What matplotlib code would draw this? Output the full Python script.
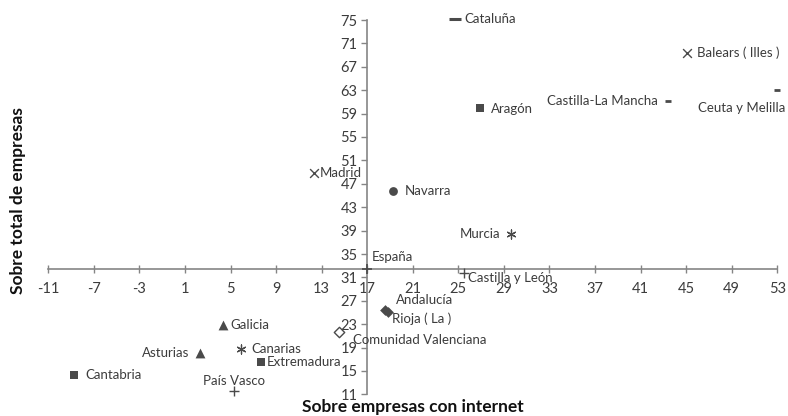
import matplotlib
matplotlib.use("Agg")
import matplotlib.pyplot as plt

# ---- data ----
regions = ["España", "Cataluña", "Balears ( Illes )", "Ceuta y Melilla", "Castilla-La Mancha",
           "Aragón", "Madrid", "Navarra", "Murcia", "Castilla y León", "Andalucía",
           "Rioja ( La )", "Comunidad Valenciana", "Galicia", "Asturias", "Canarias",
           "Extremadura", "Cantabria", "País Vasco"]
sobre_internet = [17.0, 24.7, 45.1, 53.0, 43.4, 26.9, 12.3, 19.3, 29.6, 25.5, 18.6,
                  18.8, 14.5, 4.3, 2.3, 5.9, 7.7, -8.7, 5.3]
sobre_total = [32.4, 75.1, 69.4, 63.0, 61.2, 59.9, 48.8, 45.8, 38.5, 31.8, 25.5,
               25.1, 21.7, 22.9, 18.0, 18.7, 16.6, 14.3, 11.5]
x_ticks = [-11, -7, -3, 1, 5, 9, 13, 17, 21, 25, 29, 33, 37, 41, 45, 49, 53]
y_ticks = [11, 15, 19, 23, 27, 31, 35, 39, 43, 47, 51, 55, 59, 63, 67, 71, 75]
x_title = "Sobre empresas con internet"
y_title = "Sobre total de empresas"

# ---- style ----
MC = "#4a4a4a"
TC = "#3c3c3c"
AC = "#858585"
plt.rcParams['font.family'] = ['Lato', 'DejaVu Sans']

marker_style = {
    "España": dict(marker="+", s=60, lw=1.2),
    "Cataluña": dict(marker="_", s=70, lw=2.2),
    "Balears ( Illes )": dict(marker="x", s=40, lw=1.0),
    "Ceuta y Melilla": dict(marker="_", s=22, lw=2.0),
    "Castilla-La Mancha": dict(marker="_", s=22, lw=2.0),
    "Aragón": dict(marker="s", s=38, lw=0),
    "Madrid": dict(marker="x", s=40, lw=1.0),
    "Navarra": dict(marker="o", s=40, lw=0),
    "Murcia": dict(marker=(6, 2, 0), s=42, lw=0.9),
    "Castilla y León": dict(marker="+", s=60, lw=1.0),
    "Andalucía": dict(marker="D", s=30, lw=0),
    "Rioja ( La )": dict(marker="D", s=30, lw=0),
    "Comunidad Valenciana": dict(marker="D", s=28, lw=1.0, open=True),
    "Galicia": dict(marker="^", s=50, lw=0),
    "Asturias": dict(marker="^", s=50, lw=0),
    "Canarias": dict(marker=(6, 2, 0), s=42, lw=0.9),
    "Extremadura": dict(marker="s", s=38, lw=0),
    "Cantabria": dict(marker="s", s=38, lw=0),
    "País Vasco": dict(marker="+", s=60, lw=1.0),
}
# label offsets in pixels and alignment
label_pos = {
    "España": ((5, 6), "left", "bottom"),
    "Cataluña": ((9, 0), "left", "center"),
    "Balears ( Illes )": ((10, 0), "left", "center"),
    "Ceuta y Melilla": ((8, -18), "right", "center"),
    "Castilla-La Mancha": ((-10, 0), "right", "center"),
    "Aragón": ((11, -1), "left", "center"),
    "Madrid": ((6, 0), "left", "center"),
    "Navarra": ((11, 0), "left", "center"),
    "Murcia": ((-10, 0), "right", "center"),
    "Castilla y León": ((4, -5), "left", "center"),
    "Andalucía": ((10, 10), "left", "center"),
    "Rioja ( La )": ((4, -7), "left", "center"),
    "Comunidad Valenciana": ((14, -8), "left", "center"),
    "Galicia": ((8, 0), "left", "center"),
    "Asturias": ((-10, 0), "right", "center"),
    "Canarias": ((11, 0), "left", "center"),
    "Extremadura": ((5, 0), "left", "center"),
    "Cantabria": ((11, 0), "left", "center"),
    "País Vasco": ((0, 10), "center", "center"),
}

fig = plt.figure(figsize=(7.88, 4.16), dpi=100)
ax = fig.add_axes([48.3 / 788, 21.6 / 416, 729 / 788, 374.4 / 416])
ax.set_xlim(-11, 53)
ax.set_ylim(11, 75)

for sp in ("top", "right"):
    ax.spines[sp].set_visible(False)
ax.spines["left"].set_position(("data", 17))
ax.spines["bottom"].set_position(("data", sobre_total[0]))
for sp in ("left", "bottom"):
    ax.spines[sp].set_color(AC)
    ax.spines[sp].set_linewidth(1.2)

ax.set_xticks(x_ticks)
ax.set_yticks(y_ticks)
ax.set_xticklabels([str(t) for t in x_ticks])
ax.set_yticklabels([str(t) for t in y_ticks])
ax.tick_params(axis="x", direction="inout", length=6, width=1.0, color=AC,
               labelsize=10.5, labelcolor=TC, pad=6)
ax.tick_params(axis="y", direction="out", length=4, width=1.0, color=AC,
               labelsize=10.5, labelcolor=TC, pad=3)

for name, xv, yv in zip(regions, sobre_internet, sobre_total):
    st = marker_style[name]
    if st.get("open"):
        ax.scatter([xv], [yv], marker=st["marker"], s=st["s"], facecolors="white",
                   edgecolors=MC, linewidths=st["lw"], zorder=5, clip_on=False)
    else:
        ax.scatter([xv], [yv], marker=st["marker"], s=st["s"], c=MC,
                   linewidths=st["lw"], zorder=5, clip_on=False)
    (dx, dy), ha, va = label_pos[name]
    ax.annotate(name, (xv, yv), xytext=(dx, dy), textcoords="offset pixels",
                ha=ha, va=va, fontsize=9.5, color=TC, zorder=6, annotation_clip=False)

fig.text(412.8 / 788, 1 - 407 / 416, x_title, ha="center", va="center",
         fontsize=12.5, fontweight="bold", color="#111111")
fig.text(18 / 788, 1 - 201 / 416, y_title, ha="center", va="center", rotation=90,
         fontsize=12.5, fontweight="bold", color="#111111")

fig.savefig("out.png", dpi=100)
